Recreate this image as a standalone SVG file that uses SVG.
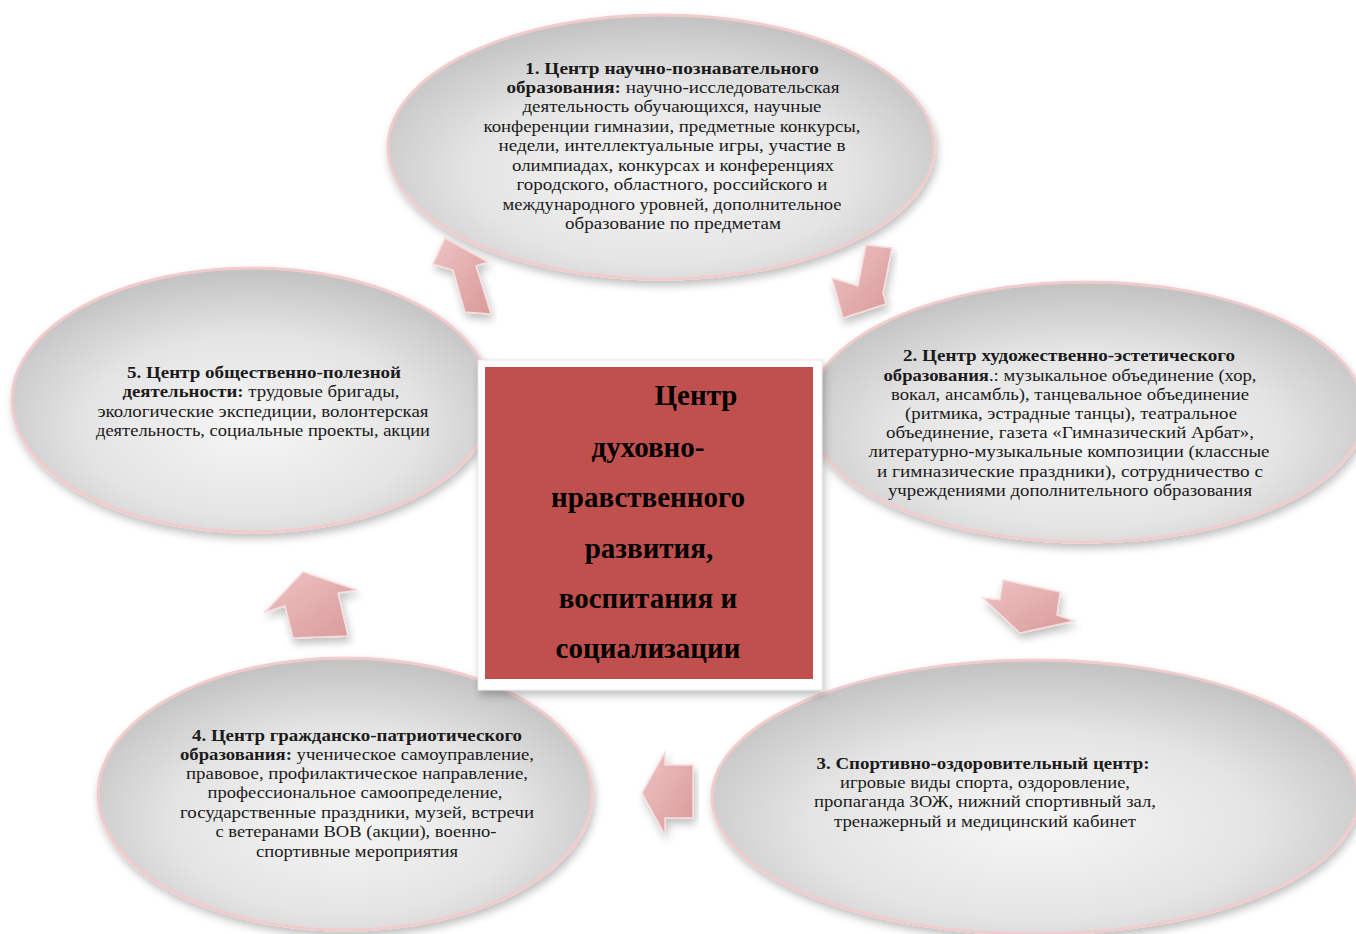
<svg xmlns="http://www.w3.org/2000/svg" width="1356" height="934" viewBox="0 0 1356 934">
<defs>
<radialGradient id="eg" cx="50%" cy="60%" r="58%">
<stop offset="0" stop-color="#f6f6f6"/>
<stop offset="0.6" stop-color="#e4e4e4"/>
<stop offset="1" stop-color="#c4c4c4"/>
</radialGradient>
<linearGradient id="ag" x1="0" y1="0" x2="1" y2="1">
<stop offset="0" stop-color="#efc3c3"/>
<stop offset="1" stop-color="#d89a9a"/>
</linearGradient>
<filter id="sh" x="-10%" y="-10%" width="120%" height="130%">
<feGaussianBlur in="SourceAlpha" stdDeviation="4"/>
<feOffset dx="2" dy="5" result="b"/>
<feComponentTransfer><feFuncA type="linear" slope="0.25"/></feComponentTransfer>
<feMerge><feMergeNode/><feMergeNode in="SourceGraphic"/></feMerge>
</filter>
</defs>
<style>
.el{fill:url(#eg);stroke:#f2cccc;stroke-width:3}
.t{font-family:"Liberation Serif","Times New Roman",serif;font-size:16px;fill:#1a1a1a;text-anchor:middle}
.b{font-weight:bold}
.c{font-family:"Liberation Serif","Times New Roman",serif;font-size:29px;font-weight:bold;fill:#000;text-anchor:middle}
.ar{fill:url(#ag);stroke:#f7dcdc;stroke-width:1.5;filter:url(#sh)}
</style>
<rect width="1356" height="934" fill="#ffffff"/>

<g id="node1">
<ellipse class="el" cx="661" cy="147" rx="273" ry="132" filter="url(#sh)"/>
<text class="t" y="74"><tspan x="672" class="b" textLength="294" lengthAdjust="spacingAndGlyphs">1. Центр  научно-познавательного</tspan></text>
<text class="t" x="673" y="93" textLength="333" lengthAdjust="spacingAndGlyphs"><tspan class="b">образования:</tspan> научно-исследовательская</text>
<text class="t" x="672" y="112" textLength="299" lengthAdjust="spacingAndGlyphs">деятельность обучающихся, научные</text>
<text class="t" x="672" y="132" textLength="377" lengthAdjust="spacingAndGlyphs">конференции  гимназии,  предметные конкурсы,</text>
<text class="t" x="672" y="151" textLength="347" lengthAdjust="spacingAndGlyphs">недели,  интеллектуальные игры, участие в</text>
<text class="t" x="673" y="171" textLength="322" lengthAdjust="spacingAndGlyphs">олимпиадах, конкурсах и  конференциях</text>
<text class="t" x="672" y="190" textLength="311" lengthAdjust="spacingAndGlyphs">городского, областного, российского и</text>
<text class="t" x="672" y="210" textLength="339" lengthAdjust="spacingAndGlyphs">международного уровней, дополнительное</text>
<text class="t" x="673" y="229" textLength="216" lengthAdjust="spacingAndGlyphs">образование по предметам</text>
</g>

<g id="node2">
<ellipse class="el" cx="1086" cy="412" rx="278" ry="130" filter="url(#sh)"/>
<text class="t" x="1069" y="361" textLength="332" lengthAdjust="spacingAndGlyphs"><tspan class="b">2. Центр художественно-эстетического</tspan></text>
<text class="t" x="1070" y="381" textLength="373" lengthAdjust="spacingAndGlyphs"><tspan class="b">образования</tspan>.: музыкальное объединение (хор,</text>
<text class="t" x="1070" y="400" textLength="358" lengthAdjust="spacingAndGlyphs">вокал, ансамбль), танцевальное объединение</text>
<text class="t" x="1071" y="419" textLength="332" lengthAdjust="spacingAndGlyphs">(ритмика, эстрадные танцы), театральное</text>
<text class="t" x="1070" y="438" textLength="368" lengthAdjust="spacingAndGlyphs">объединение, газета «Гимназический Арбат»,</text>
<text class="t" x="1069" y="457" textLength="401" lengthAdjust="spacingAndGlyphs">литературно-музыкальные композиции  (классные</text>
<text class="t" x="1070" y="477" textLength="386" lengthAdjust="spacingAndGlyphs">и гимназические   праздники),  сотрудничество с</text>
<text class="t" x="1070" y="496" textLength="364" lengthAdjust="spacingAndGlyphs">учреждениями дополнительного  образования</text>
</g>

<g id="node5">
<ellipse class="el" cx="252" cy="400" rx="240" ry="132" filter="url(#sh)"/>
<text class="t" x="264" y="378" textLength="274" lengthAdjust="spacingAndGlyphs"><tspan class="b">5. Центр общественно-полезной</tspan></text>
<text class="t" x="261" y="397" textLength="277" lengthAdjust="spacingAndGlyphs"><tspan class="b">деятельности:</tspan> трудовые бригады,</text>
<text class="t" x="263" y="417" textLength="331" lengthAdjust="spacingAndGlyphs">экологические экспедиции,  волонтерская</text>
<text class="t" x="263" y="436" textLength="334" lengthAdjust="spacingAndGlyphs">деятельность, социальные проекты, акции</text>
</g>

<g id="node4">
<ellipse class="el" cx="345" cy="794" rx="247" ry="136" filter="url(#sh)"/>
<text class="t" x="357" y="741" textLength="330" lengthAdjust="spacingAndGlyphs"><tspan class="b">4. Центр гражданско-патриотического</tspan></text>
<text class="t" x="357" y="760" textLength="354" lengthAdjust="spacingAndGlyphs"><tspan class="b">образования:</tspan> ученическое самоуправление,</text>
<text class="t" x="357" y="779" textLength="342" lengthAdjust="spacingAndGlyphs">правовое, профилактическое  направление,</text>
<text class="t" x="355" y="798" textLength="295" lengthAdjust="spacingAndGlyphs">профессиональное  самоопределение,</text>
<text class="t" x="357" y="818" textLength="354" lengthAdjust="spacingAndGlyphs">государственные праздники,  музей, встречи</text>
<text class="t" x="356" y="837" textLength="281" lengthAdjust="spacingAndGlyphs">с ветеранами ВОВ (акции), военно-</text>
<text class="t" x="357" y="857" textLength="202" lengthAdjust="spacingAndGlyphs">спортивные  мероприятия</text>
</g>

<g id="node3">
<ellipse class="el" cx="1035" cy="797" rx="323" ry="137" filter="url(#sh)"/>
<text class="t" x="983" y="769" textLength="333" lengthAdjust="spacingAndGlyphs"><tspan class="b">3. Спортивно-оздоровительный центр:</tspan></text>
<text class="t" x="985" y="788" textLength="290" lengthAdjust="spacingAndGlyphs">игровые виды спорта, оздоровление,</text>
<text class="t" x="985" y="807" textLength="342" lengthAdjust="spacingAndGlyphs">пропаганда ЗОЖ, нижний  спортивный зал,</text>
<text class="t" x="985" y="827" textLength="302" lengthAdjust="spacingAndGlyphs">тренажерный и  медицинский  кабинет</text>
</g>

<g id="center">
<rect x="478" y="360" width="344" height="330" fill="#ffffff" stroke="#e6e6e6" stroke-width="1" filter="url(#sh)"/>
<rect x="485" y="367" width="328" height="312" fill="#c0504d"/>
<text class="c" x="696" y="405">Центр</text>
<text class="c" x="648" y="457">духовно-</text>
<text class="c" x="648" y="507">нравственного</text>
<text class="c" x="649" y="558">развития,</text>
<text class="c" x="648" y="608">воспитания и</text>
<text class="c" x="648" y="658">социализации</text>
</g>

<g id="connectors">
<polygon class="ar" points="445,238 488,262 476,266 491,314 465,312 453,270 433,264"/>
<polygon class="ar" points="866,245 892,248 883,293 886,304 843,318 832,278 858,286"/>
<polygon class="ar" points="1003,580 1060,592 1057,615 1074,621 1020,633 983,598 1000,600"/>
<polygon class="ar" points="642,793 665,752 665,765 693,765 693,818 665,818 665,835"/>
<polygon class="ar" points="303,572 357,590 338,593 348,636 293,638 285,606 265,612"/>
</g>
</svg>
